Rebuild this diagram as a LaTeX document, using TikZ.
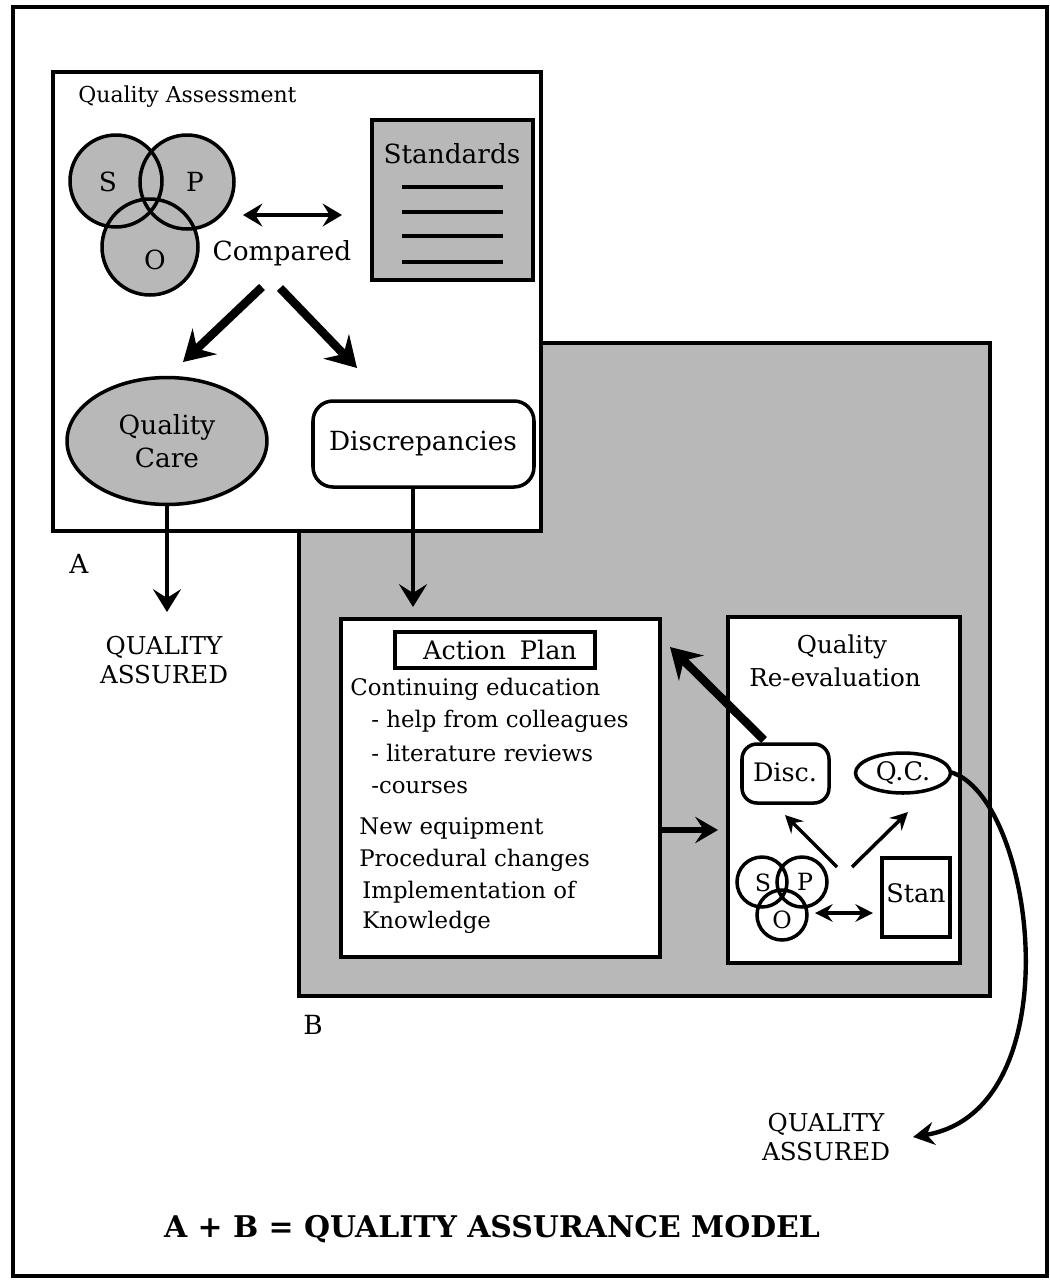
\documentclass[tikz,border=0pt]{standalone}
\usepackage{fontspec}
\setmainfont{DejaVu Serif}
\usetikzlibrary{arrows.meta,shapes.geometric,fit}
\begin{document}
\begin{tikzpicture}[x=0.02cm,y=-0.02cm,
  shade/.style={fill=black!28},
  box/.style={draw, line width=2pt, inner sep=0pt},
  ring/.style={circle, draw, line width=2pt, inner sep=0pt},
  big/.style={font=\fontsize{15}{19}\selectfont},
  mid/.style={font=\fontsize{14}{17}\selectfont},
  list/.style={font=\fontsize{13}{16}\selectfont, anchor=west, inner sep=0pt},
  arr/.style={-{Stealth[length=13pt,width=16pt,inset=5pt]}, line width=2.5pt},
  thickarr/.style={-{Stealth[length=17pt,width=20pt,inset=6pt]}, line width=4.8pt},
  dbl/.style={{Stealth[length=11pt,width=13pt,inset=4pt]}-{Stealth[length=11pt,width=13pt,inset=4pt]}, line width=2.5pt},
  smallarr/.style={-{Stealth[length=10pt,width=10pt,inset=3.5pt]}, line width=2pt},
  smalldbl/.style={{Stealth[length=10pt,width=10pt,inset=3.5pt]}-{Stealth[length=10pt,width=10pt,inset=3.5pt]}, line width=2pt}
]
\useasboundingbox (0,0) rectangle (1050,1282);
\node[box, fit={(13,7)(1047,1276)}] (outer) {};

% ---- panel B (grey) ----
\node[box, shade, fit={(299,343)(990,996)}] (B) {};
% ---- panel A ----
\node[box, fill=white, fit={(53,72)(541,531)}] (A) {};

\node[font=\fontsize{12.5}{15}\selectfont, anchor=base west, inner sep=0pt] (qahead) at (78,102) {Quality Assessment};

% Venn diagram
\node[circle, shade, minimum size=1.84cm] (Sbg) at (116,181) {};
\node[circle, shade, minimum size=1.88cm] (Pbg) at (187,182) {};
\node[circle, shade, minimum size=1.92cm] (Obg) at (150,247) {};
\node[ring, minimum size=1.84cm] (S) at (116,181) {};
\node[ring, minimum size=1.88cm] (P) at (187,182) {};
\node[ring, minimum size=1.92cm] (O) at (150,247) {};
\node[big] (Sl) at (108,182) {S};
\node[big] (Pl) at (195,182) {P};
\node[big] (Ol) at (155,260) {O};

\coordinate (dL) at (243,215);
\coordinate (dR) at (342,215);
\draw[dbl] (dL) -- (dR);
\node[big] (cmp) at (282,253) {Compared};

\node[box, shade, fit={(372,120)(533,280)}] (std) {};
\node[big] (stdl) at (452,154) {Standards};
\foreach \yy in {187,212,236,262} \draw[line width=2pt] (402,\yy) -- (503,\yy);

\coordinate (cL) at (262,287);
\coordinate (cR) at (280,288);
\coordinate (tL) at (183,362);
\coordinate (tR) at (357,368);
\draw[thickarr] (cL) -- (tL);
\draw[thickarr] (cR) -- (tR);

\node[ellipse, box, shade, minimum width=4cm, minimum height=2.54cm, align=center, font=\fontsize{15}{19}\selectfont] (qc) at (167,441) {Quality\\Care};
\node[box, rounded corners=0.4cm, fit={(313,401)(534,487)}] (disc) {};
\node[big] (discl) at (423,444) {Discrepancies};

\coordinate (qaTip) at (167,612);
\draw[arr] (qc.south) -- (qaTip);
\node[mid, align=center] (qaL) at (164,660) {QUALITY\\ASSURED};
\node[big] (Alab) at (79,564) {A};

\coordinate (dsStart) at (413,487);
\coordinate (apTip) at (413,607);
\draw[arr] (dsStart) -- (apTip);

% ---- Action plan ----
\node[box, fill=white, fit={(341,619)(660,957)}] (ap) {};
\node[box, fit={(395,632)(595,668)}] (aph) {};
\node[font=\fontsize{14.5}{17}\selectfont] (aphl) at (500,650) {Action\hspace{0.55em}Plan};
\node[list] (l1) at (350,689) {Continuing education};
\node[list] (l2) at (371,721) {- help from colleagues};
\node[list] (l3) at (371,753) {- literature reviews};
\node[list] (l4) at (371,788) {-courses};
\node[list] (l5) at (359,828) {New equipment};
\node[list] (l6) at (359,860) {Procedural changes};
\node[list] (l7) at (362,892) {Implementation of};
\node[list] (l8) at (362,922) {Knowledge};

% ---- Quality re-evaluation ----
\node[box, fill=white, fit={(728,617)(960,963)}] (re) {};
\node[mid] (rel1) at (842,647) {Quality};
\node[mid] (rel2) at (835,677) {Re-evaluation};
\node[box, rounded corners=0.3cm, fit={(742,744)(829,803)}] (d2) {};
\node[font=\fontsize{14.5}{17}\selectfont] (d2l) at (785,772) {Disc.};
\node[ellipse, box, minimum width=1.9cm, minimum height=0.8cm, font=\fontsize{14.5}{17}\selectfont] (qc2) at (903,773) {Q.C.};
\node[ring, minimum size=1cm] (s2) at (762,882) {};
\node[ring, minimum size=1cm] (p2) at (802,882) {};
\node[ring, minimum size=1cm] (o2) at (782,915) {};
\node[font=\fontsize{13.5}{16}\selectfont] (s2l) at (763,883) {S};
\node[font=\fontsize{13.5}{16}\selectfont] (p2l) at (805,882) {P};
\node[font=\fontsize{13.5}{16}\selectfont] (o2l) at (782,920) {O};
\node[box, fit={(882,858)(950,937)}] (st2) {};
\node[font=\fontsize{14.5}{17}\selectfont] (st2l) at (916,893) {Stan};
\coordinate (sdL) at (815,913);
\coordinate (sdR) at (873,913);
\draw[smalldbl] (sdL) -- (sdR);
\coordinate (a1s) at (837,867);
\coordinate (a1t) at (785,815);
\coordinate (a2s) at (852,867);
\coordinate (a2t) at (908,812);
\draw[smallarr] (a1s) -- (a1t);
\draw[smallarr] (a2s) -- (a2t);

\coordinate (rbS) at (764,740);
\coordinate (rbT) at (670,647);
\draw[thickarr] (rbS) -- (rbT);
\coordinate (apR) at (662,830);
\coordinate (reL) at (718,830);
\draw[-{Stealth[length=13pt,width=15pt,inset=5pt]}, line width=3pt] (apR) -- (reL);

\node[mid, align=center] (qaR) at (826,1137) {QUALITY\\ASSURED};
\coordinate (qcR) at (950,772);
\coordinate (curveTip) at (913,1137);
\draw[-{Stealth[length=12pt,width=13pt,inset=4pt]}, line width=2.5pt] (qcR) .. controls (1035,795) and (1075,1110) .. (curveTip);

\node[big] (Blab) at (313,1025) {B};
\node[font=\bfseries\fontsize{17}{20}\selectfont] (title) at (492,1229) {A + B = QUALITY ASSURANCE MODEL};
\end{tikzpicture}
\end{document}
